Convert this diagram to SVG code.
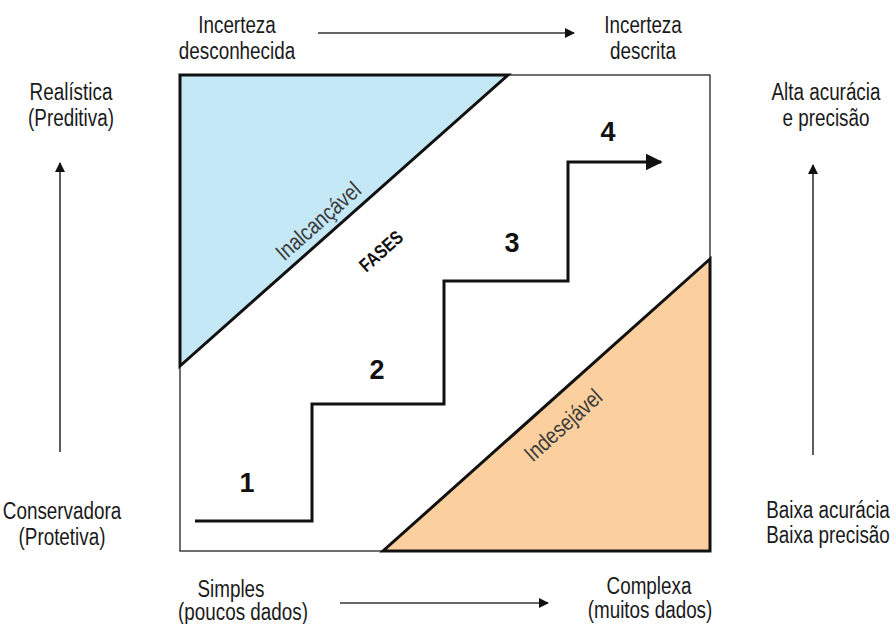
<svg xmlns="http://www.w3.org/2000/svg" width="896" height="624" viewBox="0 0 896 624">
<defs>
<style>
.lbl{font-family:"Liberation Sans",Arial,sans-serif;font-size:23px;fill:#1a1a1a;text-anchor:middle}
.num{font-family:"Liberation Sans",Arial,sans-serif;font-size:27px;font-weight:bold;fill:#111;text-anchor:middle}
.diag{font-family:"Liberation Sans",Arial,sans-serif;font-size:23px;fill:#3a3a3a;text-anchor:middle}
.fases{font-family:"Liberation Sans",Arial,sans-serif;font-size:19px;font-weight:bold;fill:#111;text-anchor:middle}
.thin{fill:none;stroke:#222;stroke-width:1.3}
.tri{stroke:#111;stroke-width:3;stroke-linejoin:miter}
.ax{fill:none;stroke:#333;stroke-width:1.6}
</style>
<marker id="ah" viewBox="0 0 10 10" refX="9" refY="5" markerWidth="10" markerHeight="10" markerUnits="userSpaceOnUse" orient="auto"><path d="M0,0 L10,5 L0,10 Z" fill="#111"/></marker>
<marker id="ah2" viewBox="0 0 10 10" refX="9" refY="5" markerWidth="17" markerHeight="17" markerUnits="userSpaceOnUse" orient="auto"><path d="M0,0 L10,5 L0,10 Z" fill="#111"/></marker>
</defs>
<rect x="0" y="0" width="896" height="624" fill="#fff"/>

<g id="frame">
<rect class="thin" x="180" y="75" width="530" height="476"/>
</g>

<g id="inalcancavel">
<polygon class="tri" points="180,75 508,75 180,366" fill="#c5e8f7"/>
<text class="diag" transform="translate(318,221) rotate(-41.6) scale(0.82,1)" dy="0.35em">Inalcançável</text>
</g>

<g id="indesejavel">
<polygon class="tri" points="383,551 710,551 710,259" fill="#fcd09e"/>
<text class="diag" transform="translate(563,425) rotate(-41.8) scale(0.82,1)" dy="0.35em">Indesejável</text>
</g>

<g id="fases">
<text class="fases" transform="translate(381,251) rotate(-41.6) scale(0.82,1)" dy="0.35em">FASES</text>
</g>

<g id="connectors">
<polyline fill="none" stroke="#111" stroke-width="3" points="195,521 312,521 312,404 444,404 444,281 568,281 568,162 661,162" marker-end="url(#ah2)"/>
<line class="ax" x1="318" y1="33" x2="574" y2="33" marker-end="url(#ah)"/>
<line class="ax" x1="340" y1="603" x2="548" y2="603" marker-end="url(#ah)"/>
<line class="ax" x1="60" y1="452" x2="60" y2="163" marker-end="url(#ah)"/>
<line class="ax" x1="813" y1="455" x2="813" y2="165" marker-end="url(#ah)"/>
</g>

<g id="phase1"><text class="num" x="247" y="492">1</text></g>
<g id="phase2"><text class="num" x="377" y="379">2</text></g>
<g id="phase3"><text class="num" x="512" y="252">3</text></g>
<g id="phase4"><text class="num" x="608" y="141">4</text></g>

<g id="incerteza-desconhecida"><text class="lbl" transform="translate(237,33) scale(0.82,1)">Incerteza</text><text class="lbl" transform="translate(237,59) scale(0.82,1)">desconhecida</text></g>
<g id="incerteza-descrita"><text class="lbl" transform="translate(643,33) scale(0.82,1)">Incerteza</text><text class="lbl" transform="translate(643,59) scale(0.82,1)">descrita</text></g>
<g id="realistica"><text class="lbl" transform="translate(71,100) scale(0.82,1)">Realística</text><text class="lbl" transform="translate(71,126) scale(0.82,1)">(Preditiva)</text></g>
<g id="alta-acuracia"><text class="lbl" transform="translate(826,100) scale(0.82,1)">Alta acurácia</text><text class="lbl" transform="translate(826,126) scale(0.82,1)">e precisão</text></g>
<g id="conservadora"><text class="lbl" transform="translate(62,519) scale(0.82,1)">Conservadora</text><text class="lbl" transform="translate(62,545) scale(0.82,1)">(Protetiva)</text></g>
<g id="baixa-acuracia"><text class="lbl" transform="translate(828,518) scale(0.82,1)">Baixa acurácia</text><text class="lbl" transform="translate(828,543) scale(0.82,1)">Baixa precisão</text></g>
<g id="simples"><text class="lbl" transform="translate(231,597) scale(0.82,1)">Simples</text><text class="lbl" transform="translate(243,620) scale(0.82,1)">(poucos dados)</text></g>
<g id="complexa"><text class="lbl" transform="translate(649,594) scale(0.82,1)">Complexa</text><text class="lbl" transform="translate(650,618) scale(0.82,1)">(muitos dados)</text></g>
</svg>
